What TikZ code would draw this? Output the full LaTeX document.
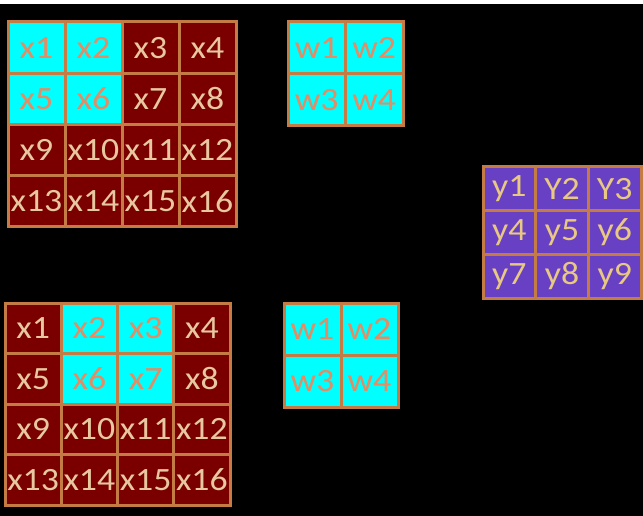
\documentclass[tikz,border=0pt]{standalone}
\usepackage{fontspec}
\setmainfont[FakeStretch=1.1]{Carlito}
\definecolor{maroonc}{RGB}{122,0,0}
\definecolor{cyanc}{RGB}{0,255,255}
\definecolor{purplec}{RGB}{104,64,196}
\definecolor{edgec}{RGB}{196,124,68}
\definecolor{tanc}{RGB}{232,200,160}
\definecolor{salmonc}{RGB}{228,140,100}
\definecolor{ytextc}{RGB}{232,200,130}
\newcommand\drawgrid[7]{%
  \foreach [count=\k from 0] \t/\s in {#7} {%
    \pgfmathtruncatemacro\cc{mod(\k,#6)}%
    \pgfmathtruncatemacro\rr{div(\k,#6)}%
    \node[cell,\s, minimum width=#4pt, minimum height=#5pt] (#1\k)
      at ({#2+(\cc+0.5)*#4},{#3+(\rr+0.5)*#5}) {\t};
  }%
}
\begin{document}
\begin{tikzpicture}[x=1pt,y=-1pt,
  cell/.style={draw=edgec, line width=3pt, inner sep=0pt, rectangle,
    font=\fontsize{32.5}{32.5}\selectfont},
  xcell/.style={fill=maroonc, text=tanc},
  hcell/.style={fill=cyanc, text=salmonc},
  ycell/.style={fill=purplec, text=ytextc}]
\useasboundingbox (0,0) rectangle (643,516);
\fill[white] (0,0) rectangle (643,516);
\fill[black] (0,4) rectangle (643,516);
% top-left input grid
\drawgrid{ta}{8}{22}{57}{51.2}{4}{x1/hcell,x2/hcell,x3/xcell,x4/xcell,
  x5/hcell,x6/hcell,x7/xcell,x8/xcell,
  x9/xcell,x10/xcell,x11/xcell,x12/xcell,
  x13/xcell,x14/xcell,x15/xcell,x16/xcell}
% top kernel
\drawgrid{tw}{288}{22}{57.5}{52}{2}{w1/hcell,w2/hcell,w3/hcell,w4/hcell}
% output grid
\drawgrid{yo}{483}{167}{52.7}{43.7}{3}{y1/ycell,Y2/ycell,Y3/ycell,
  y4/ycell,y5/ycell,y6/ycell,y7/ycell,y8/ycell,y9/ycell}
% bottom-left input grid
\drawgrid{ba}{5}{303}{56.25}{50.5}{4}{x1/xcell,x2/hcell,x3/hcell,x4/xcell,
  x5/xcell,x6/hcell,x7/hcell,x8/xcell,
  x9/xcell,x10/xcell,x11/xcell,x12/xcell,
  x13/xcell,x14/xcell,x15/xcell,x16/xcell}
% bottom kernel
\drawgrid{bw}{284}{303}{57}{52}{2}{w1/hcell,w2/hcell,w3/hcell,w4/hcell}
\end{tikzpicture}
\end{document}
